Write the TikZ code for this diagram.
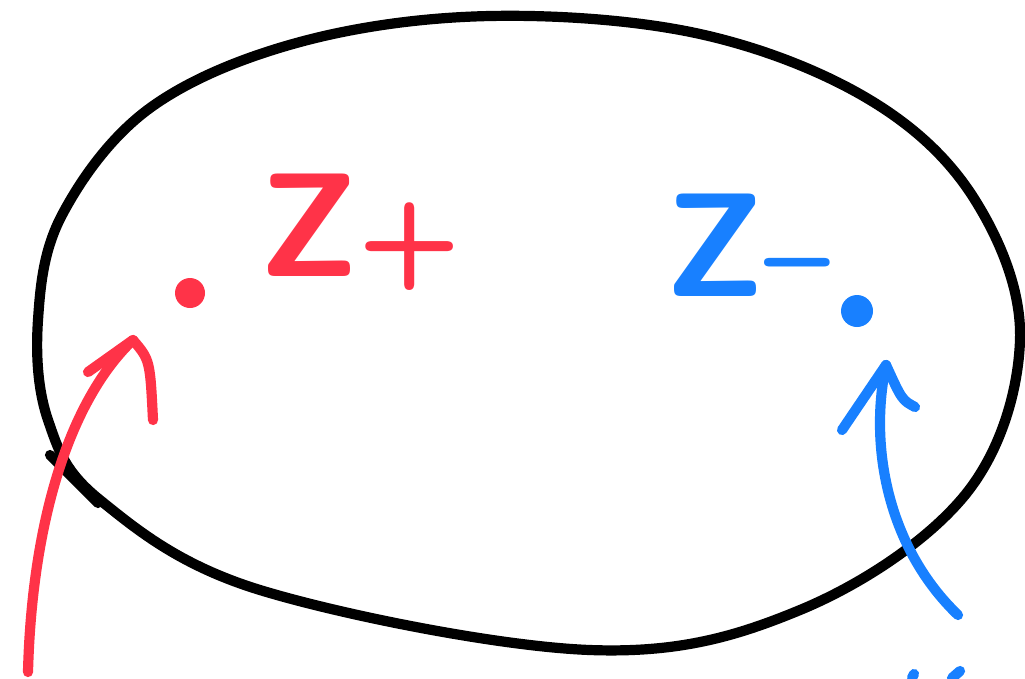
\documentclass[tikz,border=0pt]{standalone}
\definecolor{penred}{RGB}{255,51,72}
\definecolor{penblue}{RGB}{24,128,255}
\begin{document}
\begin{tikzpicture}[x=0.01cm,y=-0.01cm,line cap=round,line join=round,
  pen/.style={line width=2.9pt},
  label/.style={font=\sffamily\bfseries\fontsize{42}{42}\selectfont}]
\useasboundingbox (0,0) rectangle (1025,678);

% the region
\draw[pen,black] plot[smooth cycle,tension=0.6] coordinates {(490,16) (700,34) (870,100) (975,200) (1020,340) (965,495) (800,610) (590,650) (260,590) (100,500) (48,420) (38,320) (62,215) (150,108) (300,42)};
\draw[pen,black] (50,455) -- (98,503);

% charges
\fill[penred] (190,293) circle (15);
\fill[penblue] (857,311) circle (16);

\node[label,penred] (zplus) at (360,232) {Z{\fontsize{34}{34}\selectfont+}};
\node[label,penblue] (zminus) at (748,245) {Z{\fontsize{34}{34}\selectfont--}};

% arrows
\coordinate (redtail) at (28,672);
\coordinate (redhead) at (133,340);
\draw[pen,penred] (redtail) .. controls (32,520) and (70,400) .. (redhead);
\draw[pen,penred] (88,372) -- (redhead) .. controls (150,360) .. (153,420);

\coordinate (bluetail) at (958,615);
\coordinate (bluehead) at (886,365);
\draw[pen,penblue] (bluetail) .. controls (890,550) and (868,450) .. (bluehead);
\draw[pen,penblue] (842,430) -- (bluehead) .. controls (902,400) .. (915,407);
\draw[pen,penblue] (912,678) -- (914,674);
\draw[pen,penblue] (952,678) -- (960,671);
\end{tikzpicture}
\end{document}
